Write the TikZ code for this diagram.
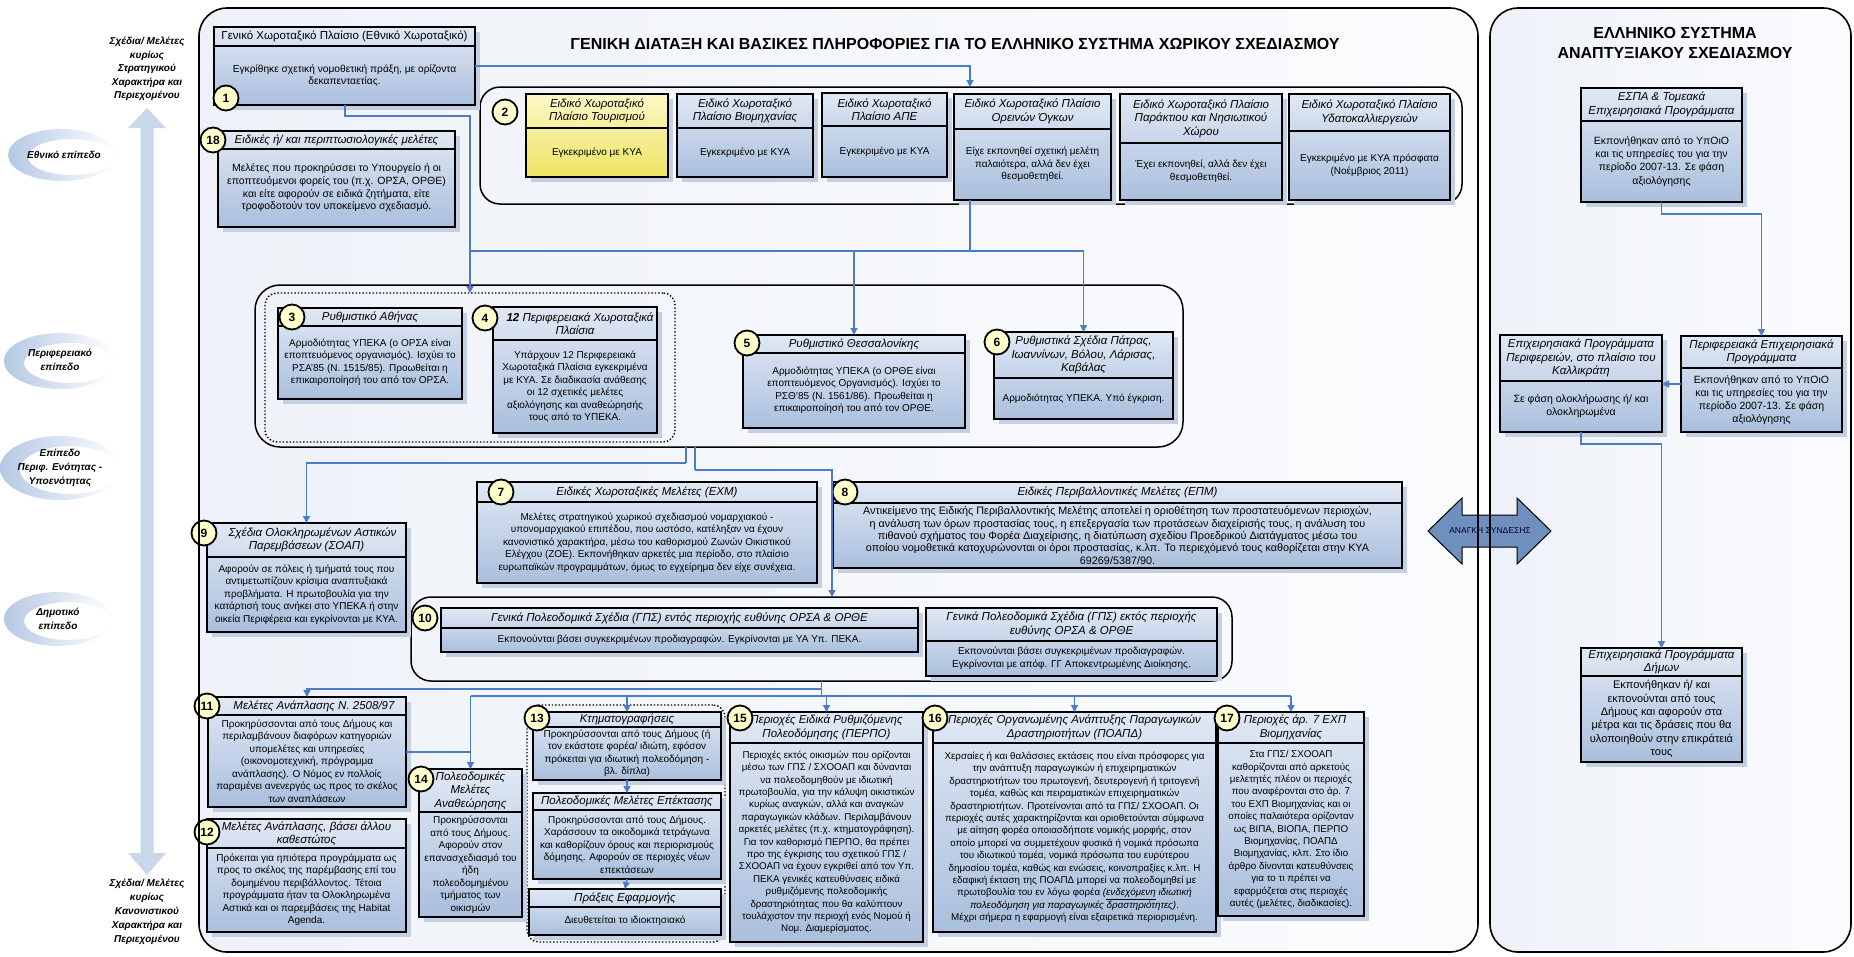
\documentclass[tikz,border=0pt]{standalone}
\usepackage{fontspec}
\setmainfont{Liberation Sans}
\usetikzlibrary{shadows,arrows.meta,calc}
\definecolor{bxA}{HTML}{E0E8F4}
\definecolor{bxB}{HTML}{AABFDD}
\definecolor{ylA}{HTML}{FBF8C8}
\definecolor{ylB}{HTML}{EFE462}
\definecolor{shc}{HTML}{C4CFE3}
\definecolor{conc}{HTML}{4A7CC8}
\definecolor{circf}{HTML}{FFFFCC}
\definecolor{panA}{HTML}{EEF2F8}
\definecolor{panB}{HTML}{FBFCFE}
\definecolor{bigarr}{HTML}{C8D7EA}
\definecolor{dblarr}{HTML}{6F8FBF}
\definecolor{swA}{HTML}{B5C8E4}
\tikzset{
  bx/.style={draw=black, line width=2pt, top color=bxA, bottom color=bxB, inner sep=0pt, outer sep=0pt,
    general shadow={fill=shc, shadow xshift=5pt, shadow yshift=-5pt}},
  ybx/.style={bx, top color=ylA, bottom color=ylB},
  divl/.style={line width=2pt, draw=black},
  hdr/.style={font=\fontsize{11.5}{13.5}\selectfont\itshape, align=center, inner sep=0pt},
  bdy/.style={font=\fontsize{10}{12.5}\selectfont, align=center, inner sep=0pt},
  numc/.style={circle, draw=black, line width=1.8pt, fill=circf, minimum size=25pt, inner sep=0pt,
    font=\fontsize{12}{12}\selectfont\bfseries},
  conn/.style={draw=conc, line width=1.3pt, -{Triangle[width=7pt,length=7pt]}},
  cline/.style={draw=conc, line width=1.3pt},
  grp/.style={draw=black, line width=1.5pt, rounded corners=20pt, inner sep=0pt, outer sep=0pt},
  dgrp/.style={draw=black, line width=1.4pt, dotted, rounded corners=12pt, inner sep=0pt, outer sep=0pt},
  panel/.style={left color=panA, right color=panB, rounded corners=28pt, inner sep=0pt, outer sep=0pt},
  pborder/.style={draw=black, line width=1.6pt, rounded corners=28pt},
  lvl/.style={font=\fontsize{10}{14}\selectfont\bfseries\itshape, align=center, inner sep=0pt},
  ttl/.style={font=\fontsize{16}{20}\selectfont\bfseries, align=center, inner sep=0pt}
}
\newcommand{\ibox}[9]{%
  \pgfmathsetmacro\bxw{#5-#3}%
  \pgfmathsetmacro\bxh{#6-#4}%
  \pgfmathsetmacro\bxc{(#3+#5)/2}%
  \pgfmathsetmacro\bxm{(#4+#6)/2}%
  \pgfmathsetmacro\bxhy{(#4+#7)/2}%
  \pgfmathsetmacro\bxby{(#7+#6)/2}%
  \node[#1, minimum width=\bxw pt, minimum height=\bxh pt] (#2) at (\bxc,\bxm) {};
  \draw[divl] (#3,#7) -- (#5,#7);
  \node[hdr] (#2h) at (\bxc,\bxhy) {#8};
  \node[bdy] (#2b) at (\bxc,\bxby) {#9};
}
\newcommand{\grpbox}[6]{%
  \pgfmathsetmacro\bxw{#5-#3}%
  \pgfmathsetmacro\bxh{#6-#4}%
  \pgfmathsetmacro\bxc{(#3+#5)/2}%
  \pgfmathsetmacro\bxm{(#4+#6)/2}%
  \node[#1, minimum width=\bxw pt, minimum height=\bxh pt] (#2) at (\bxc,\bxm) {};
}
\begin{document}
\begin{tikzpicture}[x=1pt,y=-1pt]
\useasboundingbox (0,0) rectangle (1854,956);
\fill[white] (0,0) rectangle (1854,956);

% ---------- left margin: levels ----------
\shade[left color=swA, right color=white, even odd rule]
  (62,155) ellipse [x radius=54, y radius=26] (72,157) ellipse [x radius=44, y radius=18];
\shade[left color=swA, right color=white, even odd rule]
  (60,361) ellipse [x radius=56, y radius=28] (70,363) ellipse [x radius=46, y radius=20];
\shade[left color=swA, right color=white, even odd rule]
  (60,468) ellipse [x radius=60, y radius=32] (70,470) ellipse [x radius=50, y radius=24];
\shade[left color=swA, right color=white, even odd rule]
  (58,619) ellipse [x radius=54, y radius=27] (68,621) ellipse [x radius=44, y radius=19];

\fill[bigarr] (147,108) -- (166,128) -- (153.5,128) -- (153.5,853) -- (166,853) -- (147,875)
  -- (128,853) -- (140.5,853) -- (140.5,128) -- (128,128) -- cycle;

\node[lvl, font=\fontsize{10}{13.5}\selectfont\bfseries\itshape] (lt) at (147,69)
  {Σχέδια/ Μελέτες\\κυρίως\\Στρατηγικού\\Χαρακτήρα και\\Περιεχομένου};
\node[lvl] (lb) at (147,912)
  {Σχέδια/ Μελέτες\\κυρίως\\Κανονιστικού\\Χαρακτήρα και\\Περιεχομένου};
\node[lvl] (l1) at (64,155) {Εθνικό επίπεδο};
\node[lvl] (l2) at (60,360) {Περιφερειακό\\επίπεδο};
\node[lvl] (l3) at (60,468) {Επίπεδο\\Περιφ. Ενότητας -\\Υποενότητας};
\node[lvl] (l4) at (58,619) {Δημοτικό\\επίπεδο};

% ---------- panels ----------
\grpbox{panel}{pL}{199}{8}{1478}{952}
\grpbox{panel}{pR}{1490}{8}{1851}{952}

\node[ttl] (ttlL) at (955,44) {ΓΕΝΙΚΗ ΔΙΑΤΑΞΗ ΚΑΙ ΒΑΣΙΚΕΣ ΠΛΗΡΟΦΟΡΙΕΣ ΓΙΑ ΤΟ ΕΛΛΗΝΙΚΟ ΣΥΣΤΗΜΑ ΧΩΡΙΚΟΥ ΣΧΕΔΙΑΣΜΟΥ};
\node[ttl] (ttlR) at (1675,43) {ΕΛΛΗΝΙΚΟ ΣΥΣΤΗΜΑ\\ΑΝΑΠΤΥΞΙΑΚΟΥ ΣΧΕΔΙΑΣΜΟΥ};

% ---------- containers ----------
\grpbox{grp}{g2}{480}{87}{1462}{204}
\grpbox{grp, rounded corners=25pt}{r36}{255}{285}{1183}{447}
\grpbox{dgrp}{d34}{265}{293}{675}{442}
\grpbox{grp}{c10g}{411}{597}{1232}{681}
\grpbox{dgrp}{d13}{527}{705}{725}{942}

% ---------- national level ----------
\begin{scope}[bdy/.append style={font=\fontsize{10.2}{12}\selectfont}]
\ibox{bx}{b1}{214}{27}{475}{105}{46}{\upshape Γενικό Χωροταξικό Πλαίσιο (Εθνικό Χωροταξικό)}{Εγκρίθηκε σχετική νομοθετική πράξη, με ορίζοντα\\δεκαπενταετίας.}
\end{scope}
\begin{scope}[bdy/.append style={font=\fontsize{10.5}{12.6}\selectfont}]
\ibox{bx}{b18}{218}{131}{455}{227}{149}{Ειδικές ή/ και περιπτωσιολογικές μελέτες}{Μελέτες που προκηρύσσει το Υπουργείο ή οι\\εποπτευόμενοι φορείς του (π.χ. ΟΡΣΑ, ΟΡΘΕ)\\και είτε αφορούν σε ειδικά ζητήματα, είτε\\τροφοδοτούν τον υποκείμενο σχεδιασμό.}
\end{scope}
\ibox{ybx}{b2a}{526}{94}{668}{177}{128}{Ειδικό Χωροταξικό\\Πλαίσιο Τουρισμού}{Εγκεκριμένο με ΚΥΑ}
\ibox{bx}{b2b}{677}{94}{813}{177}{128}{Ειδικό Χωροταξικό\\Πλαίσιο Βιομηχανίας}{Εγκεκριμένο με ΚΥΑ}
\ibox{bx}{b2c}{822}{93}{947}{177}{126}{Ειδικό Χωροταξικό\\Πλαίσιο ΑΠΕ}{Εγκεκριμένο με ΚΥΑ}
\ibox{bx}{b2d}{954}{94}{1111}{200}{129}{Ειδικό Χωροταξικό Πλαίσιο\\Ορεινών Όγκων}{Είχε εκπονηθεί σχετική μελέτη\\παλαιότερα, αλλά δεν έχει\\θεσμοθετηθεί.}
\ibox{bx}{b2e}{1120}{94}{1282}{200}{143}{Ειδικό Χωροταξικό Πλαίσιο\\Παράκτιου και Νησιωτικού\\Χώρου}{Έχει εκπονηθεί, αλλά δεν έχει\\θεσμοθετηθεί.}
\ibox{bx}{b2f}{1289}{94}{1450}{200}{131}{Ειδικό Χωροταξικό Πλαίσιο\\Υδατοκαλλιεργειών}{Εγκεκριμένο με ΚΥΑ πρόσφατα\\(Νοέμβριος 2011)}

% ---------- regional level ----------
\ibox{bx}{b3}{278}{308}{462}{399}{326}{Ρυθμιστικό Αθήνας}{Αρμοδιότητας ΥΠΕΚΑ (ο ΟΡΣΑ είναι\\εποπτευόμενος οργανισμός). Ισχύει το\\ΡΣΑ'85 (Ν. 1515/85). Προωθείται η\\επικαιροποίησή του από τον ΟΡΣΑ.}
\ibox{bx}{b4}{493}{307}{657}{433}{340}{\hspace*{10pt}\textbf{12} Περιφερειακά Χωροταξικά\\Πλαίσια}{Υπάρχουν 12 Περιφερειακά\\Χωροταξικά Πλαίσια εγκεκριμένα\\με ΚΥΑ. Σε διαδικασία ανάθεσης\\οι 12 σχετικές μελέτες\\αξιολόγησης και αναθεώρησής\\τους από το ΥΠΕΚΑ.}
\ibox{bx}{b5}{743}{335}{965}{428}{353}{Ρυθμιστικό Θεσσαλονίκης}{Αρμοδιότητας ΥΠΕΚΑ (ο ΟΡΘΕ είναι\\εποπτευόμενος Οργανισμός). Ισχύει το\\ΡΣΘ'85 (Ν. 1561/86). Προωθείται η\\επικαιροποίησή του από τον ΟΡΘΕ.}
\ibox{bx}{b6}{994}{332}{1173}{419}{378}{Ρυθμιστικά Σχέδια Πάτρας,\\Ιωαννίνων, Βόλου, Λάρισας,\\Καβάλας}{Αρμοδιότητας ΥΠΕΚΑ. Υπό έγκριση.}

% ---------- sub-regional level ----------
\ibox{bx}{b7}{477}{482}{817}{583}{502}{Ειδικές Χωροταξικές Μελέτες (ΕΧΜ)}{Μελέτες στρατηγικού χωρικού σχεδιασμού νομαρχιακού -\\υπονομαρχιακού επιπέδου, που ωστόσο, κατέληξαν να έχουν\\κανονιστικό χαρακτήρα, μέσω του καθορισμού Ζωνών Οικιστικού\\Ελέγχου (ΖΟΕ). Εκπονήθηκαν αρκετές μια περίοδο, στο πλαίσιο\\ευρωπαϊκών προγραμμάτων, όμως το εγχείρημα δεν είχε συνέχεια.}
\begin{scope}[bdy/.append style={font=\fontsize{10.8}{12.4}\selectfont}]
\ibox{bx}{b8}{833}{482}{1402}{568}{503}{Ειδικές Περιβαλλοντικές Μελέτες (ΕΠΜ)}{Αντικείμενο της Ειδικής Περιβαλλοντικής Μελέτης αποτελεί η οριοθέτηση των προστατευόμενων περιοχών,\\η ανάλυση των όρων προστασίας τους, η επεξεργασία των προτάσεων διαχείρισής τους, η ανάλυση του\\πιθανού σχήματος του Φορέα Διαχείρισης, η διατύπωση σχεδίου Προεδρικού Διατάγματος μέσω του\\οποίου νομοθετικά κατοχυρώνονται οι όροι προστασίας, κ.λπ. Το περιεχόμενό τους καθορίζεται στην ΚΥΑ\\69269/5387/90.}
\end{scope}
\ibox{bx}{b9}{207}{523}{406}{632}{557}{\hspace*{12pt}Σχέδια Ολοκληρωμένων Αστικών\\Παρεμβάσεων (ΣΟΑΠ)}{Αφορούν σε πόλεις ή τμήματά τους που\\αντιμετωπίζουν κρίσιμα αναπτυξιακά\\προβλήματα. Η πρωτοβουλία για την\\κατάρτισή τους ανήκει στο ΥΠΕΚΑ ή στην\\οικεία Περιφέρεια και εγκρίνονται με ΚΥΑ.}

% ---------- municipal level ----------
\ibox{bx}{b10a}{441}{608}{918}{652}{628}{Γενικά Πολεοδομικά Σχέδια (ΓΠΣ) εντός περιοχής ευθύνης ΟΡΣΑ \& ΟΡΘΕ}{Εκπονούνται βάσει συγκεκριμένων προδιαγραφών. Εγκρίνονται με ΥΑ Υπ. ΠΕΚΑ.}
\ibox{bx}{b10b}{926}{608}{1217}{676}{641}{Γενικά Πολεοδομικά Σχέδια (ΓΠΣ) εκτός περιοχής\\ευθύνης ΟΡΣΑ \& ΟΡΘΕ}{Εκπονούνται βάσει συγκεκριμένων προδιαγραφών.\\Εγκρίνονται με απόφ. ΓΓ Αποκεντρωμένης Διοίκησης.}
\ibox{bx}{b11}{208}{697}{406}{807}{715}{\hspace*{14pt}Μελέτες Ανάπλασης Ν. 2508/97}{Προκηρύσσονται από τους Δήμους και\\περιλαμβάνουν διαφόρων κατηγοριών\\υπομελέτες και υπηρεσίες\\(οικονομοτεχνική, πρόγραμμα\\ανάπλασης). Ο Νόμος εν πολλοίς\\παραμένει ανενεργός ως προς το σκέλος\\των αναπλάσεων}
\ibox{bx}{b12}{207}{819}{406}{932}{848}{Μελέτες Ανάπλασης, βάσει άλλου\\καθεστώτος}{Πρόκειται για ηπιότερα προγράμματα ως\\προς το σκέλος της παρέμβασης επί του\\δομημένου περιβάλλοντος. Τέτοια\\προγράμματα ήταν τα Ολοκληρωμένα\\Αστικά και οι παρεμβάσεις της Habitat\\Agenda.}
\ibox{bx}{b14}{419}{769}{522}{917}{812}{Πολεοδομικές\\Μελέτες\\Αναθεώρησης}{Προκηρύσσονται\\από τους Δήμους.\\Αφορούν στον\\επανασχεδιασμό του\\ήδη\\πολεοδομημένου\\τμήματος των\\οικισμών}
\ibox{bx}{b13}{533}{712}{721}{780}{727}{Κτηματογραφήσεις}{Προκηρύσσονται από τους Δήμους (ή\\τον εκάστοτε φορέα/ ιδιώτη, εφόσον\\πρόκειται για ιδιωτική πολεοδόμηση -\\βλ. δίπλα)}
\ibox{bx}{b13e}{533}{793}{721}{879}{810}{Πολεοδομικές Μελέτες Επέκτασης}{Προκηρύσσονται από τους Δήμους.\\Χαράσσουν τα οικοδομικά τετράγωνα\\και καθορίζουν όρους και περιορισμούς\\δόμησης. Αφορούν σε περιοχές νέων\\επεκτάσεων}
\ibox{bx}{b13p}{529}{889}{721}{935}{907}{Πράξεις Εφαρμογής}{Διευθετείται το ιδιοκτησιακό}
\begin{scope}[bdy/.append style={font=\fontsize{9.8}{12.4}\selectfont}]
\ibox{bx}{b15}{730}{712}{923}{942}{743}{Περιοχές Ειδικά Ρυθμιζόμενης\\Πολεοδόμησης (ΠΕΡΠΟ)}{Περιοχές εκτός οικισμών που ορίζονται\\μέσω των ΓΠΣ / ΣΧΟΟΑΠ και δύνανται\\να πολεοδομηθούν με ιδιωτική\\πρωτοβουλία, για την κάλυψη οικιστικών\\κυρίως αναγκών, αλλά και αναγκών\\παραγωγικών κλάδων. Περιλαμβάνουν\\αρκετές μελέτες (π.χ. κτηματογράφηση).\\Για τον καθορισμό ΠΕΡΠΟ, θα πρέπει\\προ της έγκρισης του σχετικού ΓΠΣ /\\ΣΧΟΟΑΠ να έχουν εγκριθεί από τον Υπ.\\ΠΕΚΑ γενικές κατευθύνσεις ειδικά\\ρυθμιζόμενης πολεοδομικής\\δραστηριότητας που θα καλύπτουν\\τουλάχιστον την περιοχή ενός Νομού ή\\Νομ. Διαμερίσματος.}
\ibox{bx}{b16}{933}{712}{1216}{932}{743}{Περιοχές Οργανωμένης Ανάπτυξης Παραγωγικών\\Δραστηριοτήτων (ΠΟΑΠΔ)}{Χερσαίες ή και θαλάσσιες εκτάσεις που είναι πρόσφορες για\\την ανάπτυξη παραγωγικών ή επιχειρηματικών\\δραστηριοτήτων του πρωτογενή, δευτερογενή ή τριτογενή\\τομέα, καθώς και πειραματικών επιχειρηματικών\\δραστηριοτήτων. Προτείνονται από τα ΓΠΣ/ ΣΧΟΟΑΠ. Οι\\περιοχές αυτές χαρακτηρίζονται και οριοθετούνται σύμφωνα\\με αίτηση φορέα οποιασδήποτε νομικής μορφής, στον\\οποίο μπορεί να συμμετέχουν φυσικά ή νομικά πρόσωπα\\του ιδιωτικού τομέα, νομικά πρόσωπα του ευρύτερου\\δημοσίου τομέα, καθώς και ενώσεις, κοινοπραξίες κ.λπ. Η\\εδαφική έκταση της ΠΟΑΠΔ μπορεί να πολεοδομηθεί με\\πρωτοβουλία του εν λόγω φορέα \textit{(\underline{ενδεχόμενη} ιδιωτική}\\\textit{πολεοδόμηση για παραγωγικές δραστηριότητες)}.\\Μέχρι σήμερα η εφαρμογή είναι εξαιρετικά περιορισμένη.}
\ibox{bx}{b17}{1218}{712}{1364}{916}{743}{\hspace*{8pt}Περιοχές άρ. 7 ΕΧΠ\\Βιομηχανίας}{Στα ΓΠΣ/ ΣΧΟΟΑΠ\\καθορίζονται από αρκετούς\\μελετητές πλέον οι περιοχές\\που αναφέρονται στο άρ. 7\\του ΕΧΠ Βιομηχανίας και οι\\οποίες παλαιότερα ορίζονταν\\ως ΒΙΠΑ, ΒΙΟΠΑ, ΠΕΡΠΟ\\Βιομηχανίας, ΠΟΑΠΔ\\Βιομηχανίας, κλπ. Στο ίδιο\\άρθρο δίνονται κατευθύνσεις\\για το τι πρέπει να\\εφαρμόζεται στις περιοχές\\αυτές (μελέτες, διαδικασίες).}
\end{scope}

% ---------- right panel ----------
\begin{scope}[bdy/.append style={font=\fontsize{10.5}{13.2}\selectfont}]
\ibox{bx}{besp}{1581}{88}{1742}{202}{121}{ΕΣΠΑ \& Τομεακά\\Επιχειρησιακά Προγράμματα}{Εκπονήθηκαν από το ΥπΟιΟ\\και τις υπηρεσίες του για την\\περίοδο 2007-13. Σε φάση\\αξιολόγησης}
\ibox{bx}{bper}{1681}{336}{1842}{432}{368}{Περιφερειακά Επιχειρησιακά\\Προγράμματα}{Εκπονήθηκαν από το ΥπΟιΟ\\και τις υπηρεσίες του για την\\περίοδο 2007-13. Σε φάση\\αξιολόγησης}
\ibox{bx}{bop}{1500}{335}{1662}{432}{381}{Επιχειρησιακά Προγράμματα\\Περιφερειών, στο πλαίσιο του\\Καλλικράτη}{Σε φάση ολοκλήρωσης ή/ και\\ολοκληρωμένα}
\end{scope}
\begin{scope}[bdy/.append style={font=\fontsize{11}{13.3}\selectfont}]
\ibox{bx}{bdim}{1581}{648}{1742}{762}{676}{Επιχειρησιακά Προγράμματα\\Δήμων}{Εκπονήθηκαν ή/ και\\εκπονούνται από τους\\Δήμους και αφορούν στα\\μέτρα και τις δράσεις που θα\\υλοποιηθούν στην επικράτειά\\τους}
\end{scope}

% ---------- number circles ----------
\node[numc] (n1) at (226,98) {1};
\node[numc] (n18) at (213,140) {18};
\node[numc] (n2) at (505,112) {2};
\node[numc] (n3) at (292,317) {3};
\node[numc] (n4) at (485,318) {4};
\node[numc] (n5) at (747,343) {5};
\node[numc] (n6) at (997,342) {6};
\node[numc] (n7) at (501,492) {7};
\node[numc] (n8) at (845,492) {8};
\node[numc] (n9) at (204,533) {9};
\node[numc] (n10) at (425,618) {10};
\node[numc] (n11) at (207,706) {11};
\node[numc] (n12) at (207,832) {12};
\node[numc] (n13) at (537,718) {13};
\node[numc] (n14) at (421,779) {14};
\node[numc] (n15) at (740,718) {15};
\node[numc] (n16) at (935,718) {16};
\node[numc] (n17) at (1227,718) {17};

% ---------- connectors ----------
\coordinate (j1) at (970,87);
\draw[conn] (b1.east) -| (j1);
\coordinate (j2) at (345,116);
\draw[conn] (b1.south -| j2) -- (j2) -| (d34.north);
\coordinate (j3) at (970,251);
\draw[cline] (b2d.south -| j3) -- (j3);
\draw[cline] (d34.north |- j3) -- (b6.north |- j3);
\draw[conn] (b5.north |- j3) -- (b5.north);
\draw[conn] (b6.north |- j3) -- (b6.north);
\coordinate (j4) at (686,463);
\coordinate (j4b) at (695,470);
\coordinate (j4c) at (832,597);
\draw[cline] (r36.south -| j4) -- (j4);
\draw[conn] (j4) -| (b9.north);
\draw[cline] (r36.south -| j4b) -- (j4b);
\draw[conn] (j4b) -| (j4c);
\coordinate (j5) at (821.5,696);
\coordinate (j6) at (821.5,689);
\draw[cline] (c10g.south) -- (j5);
\draw[conn] (j6) -| (b11.north);
\draw[cline] (b14.north |- j5) -- (b17.north |- j5);
\draw[conn] (b14.north |- j5) -- (b14.north);
\draw[conn] (b13.north |- j5) -- (b13.north);
\draw[conn] (b15.north |- j5) -- (b15.north);
\draw[conn] (b16.north |- j5) -- (b16.north);
\draw[conn] (b17.north |- j5) -- (b17.north);
\draw[cline] (b11.east) -- (b11.east -| b14.north);
\draw[conn] (b13.south) -- (b13e.north);
\draw[conn] (b13e.south) -- (b13p.north);
\draw[conn] (besp.south) -- ++(0,12) -| (bper.north);
\draw[conn] (bper.west) -- (bper.west -| bop.east);
\draw[conn] (bop.south) -- ++(0,12) -| (bdim.north);

% ---------- link arrow ----------
\filldraw[fill=dblarr, draw=black, line width=1pt] (1428,531) -- (1462,498) -- (1462,515) -- (1517,515)
  -- (1517,498) -- (1551,531) -- (1517,564) -- (1517,547) -- (1462,547) -- (1462,564) -- cycle;
\draw[pborder] (pL.north west) rectangle (pL.south east);
\draw[pborder] (pR.north west) rectangle (pR.south east);
\node[font=\fontsize{8.5}{8.5}\selectfont, text=black!85!blue, inner sep=0pt] (need) at (1490,531) {ΑΝΑΓΚΗ ΣΥΝΔΕΣΗΣ};
\end{tikzpicture}
\end{document}
